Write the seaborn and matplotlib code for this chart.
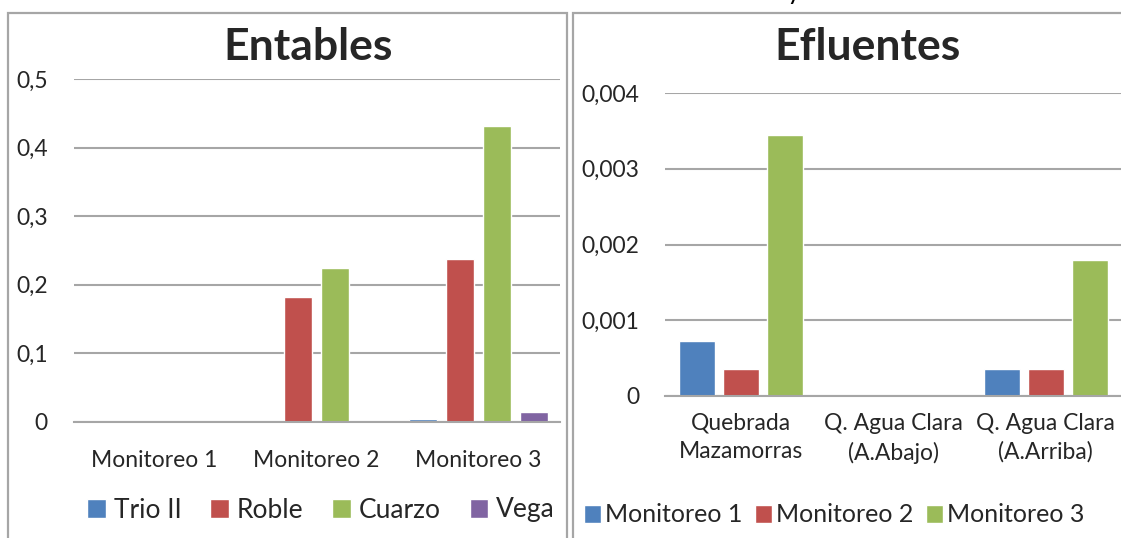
import pandas as pd
import matplotlib.pyplot as plt
import matplotlib.patches as mpatches
from matplotlib.ticker import FuncFormatter
import seaborn as sns

# datos
monitoreos = ['Monitoreo 1', 'Monitoreo 2', 'Monitoreo 3']
entables = ['Trio II', 'Roble', 'Cuarzo', 'Vega']
trio = [0.0, 0.0, 0.004]
roble = [0.0, 0.182, 0.238]
cuarzo = [0.0, 0.225, 0.431]
vega = [0.001, 0.001, 0.014]

puntos = ['Quebrada\nMazamorras', 'Q. Agua Clara\n(A.Abajo)', 'Q. Agua Clara\n(A.Arriba)']
mon1 = [0.00073, 0.0, 0.00035]
mon2 = [0.00036, 0.0, 0.00035]
mon3 = [0.00345, 0.0, 0.0018]

colores = ['#4F81BD', '#C0504D', '#9BBB59', '#8064A2']

sns.set_style('white')
plt.rcParams['font.family'] = ['Lato', 'DejaVu Sans']

df1 = pd.DataFrame({'x': monitoreos * 4,
                    'y': trio + roble + cuarzo + vega,
                    'serie': [e for e in entables for _ in monitoreos]})
df2 = pd.DataFrame({'x': puntos * 3,
                    'y': mon1 + mon2 + mon3,
                    'serie': [m for m in monitoreos for _ in puntos]})

W, H = 1121, 538
fig = plt.figure(figsize=(W / 100, H / 100), dpi=100)

def caja(x0, x1, y0, y1):
    return [x0 / W, 1 - y1 / H, (x1 - x0) / W, (y1 - y0) / H]

# marcos de los graficos
for x0, x1 in [(8, 567), (573, 1130)]:
    fig.patches.append(mpatches.Rectangle((x0 / W, -0.1), (x1 - x0) / W, 1 - 13 / H + 0.1,
                                          transform=fig.transFigure, fill=False,
                                          edgecolor='#a6a6a6', lw=1.6))

# pie de la grafica anterior, casi todo fuera del lienzo
fig.text(0.5, 1 + 1.5 / H, 'Gráfica 3. Concentración de mercurio en entables y efluentes',
         ha='center', va='baseline', fontsize=19, color='black')

ax1 = fig.add_axes(caja(73.5, 559.5, 79, 422))
sns.barplot(data=df1, x='x', y='y', hue='serie', palette=colores[:4],
            width=0.914, gap=0.22, ax=ax1, saturation=1, legend=True)
ax1.set_ylim(0, 0.5)
ax1.set_xlim(-0.5, 2.5)
ax1.set_yticks([0, 0.1, 0.2, 0.3, 0.4, 0.5])

ax2 = fig.add_axes(caja(665, 1122, 93, 396))
sns.barplot(data=df2, x='x', y='y', hue='serie', palette=colores[:3],
            width=0.866, gap=0.18, ax=ax2, saturation=1, legend=True)
ax2.set_ylim(0, 0.004)
ax2.set_xlim(-0.5, 2.5)
ax2.set_yticks([0, 0.001, 0.002, 0.003, 0.004])

coma = FuncFormatter(lambda v, p: '0' if v == 0 else ('%g' % v).replace('.', ','))
for ax, titulo, tx in [(ax1, 'Entables', 308), (ax2, 'Efluentes', 868)]:
    ax.yaxis.set_major_formatter(coma)
    ax.set_xlabel('')
    ax.set_ylabel('')
    ax.grid(axis='y', color='#a6a6a6', lw=1.5)
    ax.set_axisbelow(True)
    for s in ['top', 'right', 'left']:
        ax.spines[s].set_visible(False)
    ax.spines['bottom'].set_color('#a6a6a6')
    ax.spines['bottom'].set_linewidth(1.5)
    ax.tick_params(axis='both', length=0, labelsize=16.5, colors='#262626')
    ax.tick_params(axis='y', pad=18.5)
    fig.text(tx / W, 1 - 47 / H, titulo, ha='center', va='center',
             fontsize=32, fontweight='bold')

ax1.tick_params(axis='x', pad=20)
ax2.tick_params(axis='x', pad=12)
for lab in ax2.get_xticklabels():
    lab.set_linespacing(1.45)

ax1.legend(loc='center', bbox_to_anchor=(321 / W, 1 - 510 / H),
           bbox_transform=fig.transFigure, ncol=4, frameon=False, fontsize=19,
           handlelength=0.7, handleheight=0.7, handletextpad=0.3, columnspacing=1.1)
ax2.legend(loc='center', bbox_to_anchor=(834 / W, 1 - 515 / H),
           bbox_transform=fig.transFigure, ncol=3, frameon=False, fontsize=18,
           handlelength=0.7, handleheight=0.7, handletextpad=0.15, columnspacing=0.5)

fig.savefig('out.png', dpi=100)
